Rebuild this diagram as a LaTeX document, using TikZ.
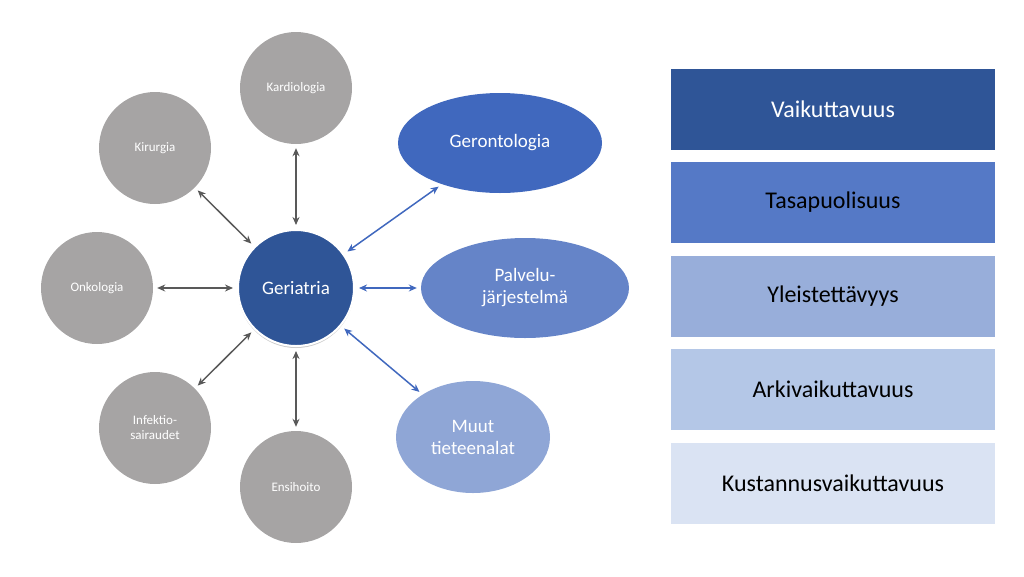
\documentclass[tikz,border=0pt]{standalone}
\usepackage{fontspec}
\setmainfont{Carlito}
\usetikzlibrary{arrows.meta,shadows,shapes.geometric}
\definecolor{gr}{HTML}{A6A4A4}
\definecolor{c1}{HTML}{2F5597}
\definecolor{c2}{HTML}{4068BE}
\definecolor{c3}{HTML}{6584C8}
\definecolor{c4}{HTML}{8FA6D6}
\definecolor{b2}{HTML}{5579C6}
\definecolor{b3}{HTML}{98AEDA}
\definecolor{b4}{HTML}{B4C7E7}
\definecolor{b5}{HTML}{DAE3F3}
\tikzset{
 gc/.style={circle,fill=gr,minimum size=112pt,text=white,font=\fontsize{13}{15}\selectfont,align=center,inner sep=0},
 el/.style={ellipse,fill=#1,text=white,font=\fontsize{19}{22}\selectfont,align=center},
 bx/.style={fill=#1,minimum width=324pt,minimum height=81pt,font=\fontsize{24}{28}\selectfont,inner sep=0},
 ga/.style={draw=black!65,line width=1.5pt,{Stealth[length=8pt,width=7pt]}-{Stealth[length=8pt,width=7pt]},shorten <=4pt,shorten >=4pt},
 ba/.style={draw=c2,line width=1.5pt,{Stealth[length=8pt,width=7pt]}-{Stealth[length=8pt,width=7pt]},shorten <=4pt,shorten >=4pt}
}
\begin{document}
\begin{tikzpicture}[x=1pt,y=-1pt]
\useasboundingbox (0,0) rectangle (1024,576);
\node[gc] (ka) at (296,88) {Kardiologia};
\node[gc] (ki) at (155,148) {Kirurgia};
\node[gc] (on) at (97,288) {Onkologia};
\node[gc] (in) at (155,428) {Infektio-\\sairaudet};
\node[gc] (en) at (296,487) {Ensihoito};
\node[circle,fill=c1,draw=white,line width=2pt,minimum size=116pt,text=white,font=\fontsize{19}{22}\selectfont,drop shadow={opacity=0.4,shadow xshift=0pt,shadow yshift=-2pt}] (ge) at (296,288) {Geriatria};
\node[el=c2,minimum width=204pt,minimum height=100pt] (gt) at (500,143) {Gerontologia};
\node[el=c3,minimum width=208pt,minimum height=100pt] (pa) at (525,288) {Palvelu-\\järjestelmä};
\node[el=c4,minimum width=154pt,minimum height=112pt] (mu) at (473,437) {Muut\\tieteenalat};
\draw[ga] (ge) -- (ka);
\draw[ga] (ge) -- (ki);
\draw[ga] (ge) -- (on);
\draw[ga] (ge) -- (in);
\draw[ga] (ge) -- (en);
\draw[ba] (ge) -- (gt);
\draw[ba] (ge) -- (pa);
\draw[ba] (ge) -- (mu);
\node[bx=c1,text=white] (v1) at (833,109) {Vaikuttavuus};
\node[bx=b2] (v2) at (833,202.5) {Tasapuolisuus};
\node[bx=b3] (v3) at (833,296) {Yleistettävyys};
\node[bx=b4] (v4) at (833,389.5) {Arkivaikuttavuus};
\node[bx=b5] (v5) at (833,483) {Kustannusvaikuttavuus};
\end{tikzpicture}
\end{document}
